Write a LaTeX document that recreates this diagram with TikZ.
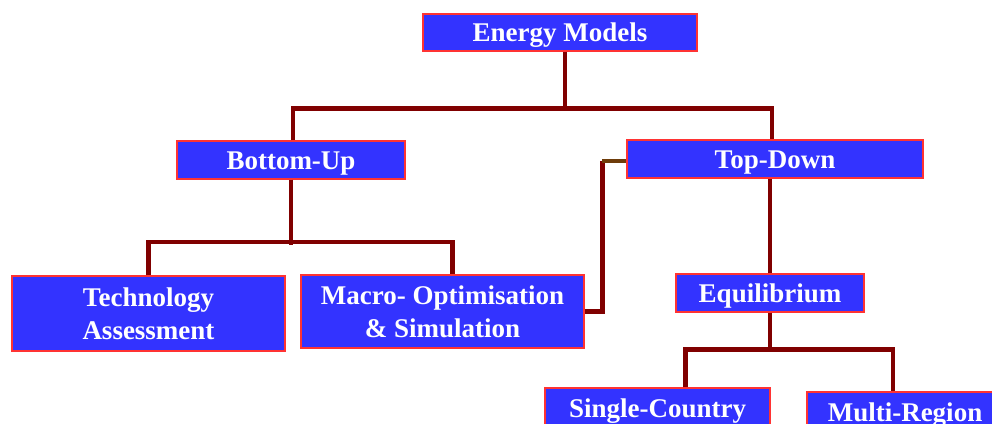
\documentclass[tikz,border=0pt]{standalone}
\usepackage{fontspec}
\setmainfont{Liberation Serif}
\usetikzlibrary{calc}
\definecolor{boxblue}{RGB}{51,51,255}
\definecolor{boxred}{RGB}{255,51,51}
\definecolor{linkred}{RGB}{128,0,0}
\definecolor{stubbrown}{RGB}{110,60,10}
\begin{document}
\begin{tikzpicture}[x=1pt, y=-1pt,
  box/.style={draw=boxred, line width=1.2pt, fill=boxblue, text=white, inner sep=0pt, align=center,
    font=\bfseries\fontsize{27}{33}\selectfont},
  oneline/.style={box, text height=19pt, text depth=1pt},
  link/.style={draw=linkred, line width=4.4pt},
  stub/.style={draw=stubbrown, line width=4.4pt}]
  \useasboundingbox (0,0) rectangle (992,423);
  \clip (0,0) rectangle (992,423);
  % boxes
  \node[oneline, minimum width=274pt, minimum height=37pt] (energy) at (560,32.5) {Energy Models};
  \node[oneline, minimum width=228pt, minimum height=38pt] (bottomup) at (291,160) {Bottom-Up};
  \node[oneline, minimum width=296pt, minimum height=38pt] (topdown) at (775,159) {Top-Down};
  \node[box, line width=2pt, minimum width=273pt, minimum height=75pt] (techass) at (148.5,313.5) {Technology\\Assessment};
  \node[box, minimum width=283pt, minimum height=73pt] (macro) at (442.5,311.5) {Macro- Optimisation\\\& Simulation};
  \node[oneline, minimum width=188pt, minimum height=38pt] (equil) at (770,293) {Equilibrium};
  \node[oneline, minimum width=225pt, minimum height=40pt] (single) at (657.5,408) {Single-Country};
  \node[oneline, line width=1.6pt, minimum width=196pt, minimum height=40pt] (multi) at (905,412) {Multi-Region};
  % connectors
  \draw[link] ([xshift=5pt]energy.south) -- ++(0,57);
  \draw[link] ([xshift=2pt]bottomup.north) -- ++(0,-32) -| ([xshift=-3pt]topdown.north);
  \draw[link] (bottomup.south) -- ++(0,65);
  \draw[link] (techass.north) -- ++(0,-33) -| ([xshift=10pt]macro.north);
  \coordinate (kink) at ($(topdown.west)+(-24,2)$);
  \draw[link] (macro.east) -| (kink);
  \draw[stub] (kink) -- (topdown.west |- kink);
  \draw[link] (equil.north) -- (equil.north |- topdown.south);
  \draw[link] (equil.south) -- ++(0,38);
  \draw[link] ([xshift=28pt]single.north) -- ++(0,-38) -| ([xshift=-12pt]multi.north);
\end{tikzpicture}
\end{document}
